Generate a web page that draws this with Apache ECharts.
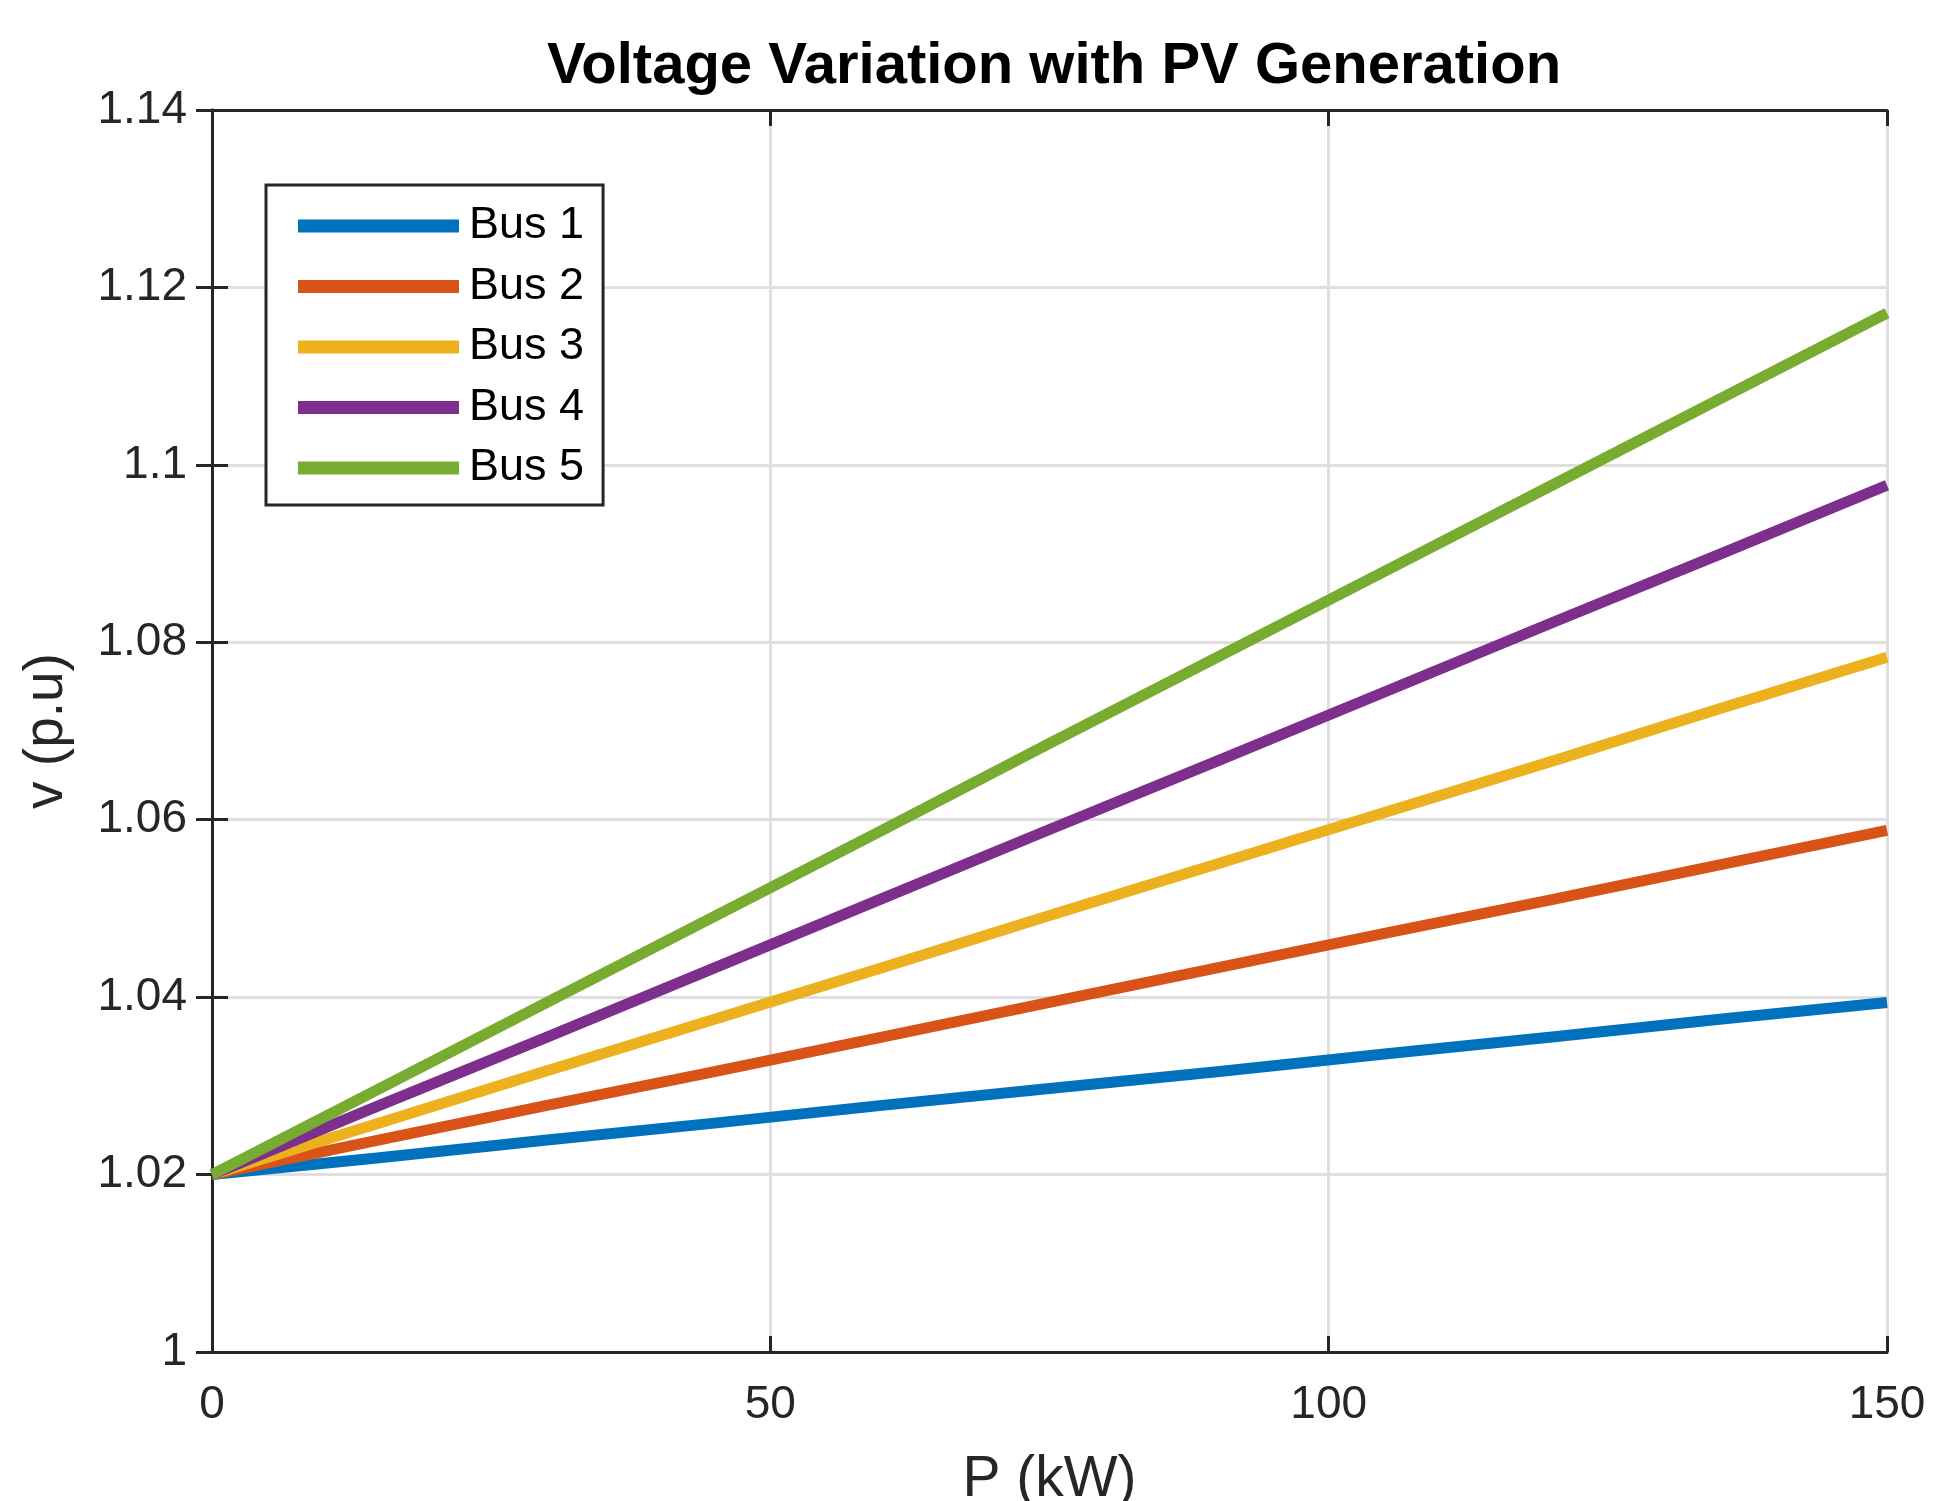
<!DOCTYPE html>
<html>
<head>
<meta charset="utf-8">
<script src="https://cdn.jsdelivr.net/npm/echarts@6/dist/echarts.min.js"></script>
<style>
html,body{margin:0;padding:0;background:#fff;}
#chart{width:1934px;height:1501px;}
</style>
</head>
<body>
<div id="chart"></div>
<script>
// Data
const pKW = [0, 15, 30, 45, 60, 75, 90, 105, 120, 135, 150];
const bus1 = [1.0200, 1.0219, 1.0239, 1.0258, 1.0278, 1.0297, 1.0316, 1.0336, 1.0355, 1.0375, 1.0394];
const bus2 = [1.0200, 1.0239, 1.0278, 1.0316, 1.0355, 1.0394, 1.0433, 1.0472, 1.0510, 1.0549, 1.0588];
const bus3 = [1.0200, 1.0258, 1.0317, 1.0375, 1.0433, 1.0492, 1.0550, 1.0608, 1.0666, 1.0725, 1.0783];
const bus4 = [1.0200, 1.0278, 1.0355, 1.0433, 1.0511, 1.0589, 1.0666, 1.0744, 1.0822, 1.0899, 1.0977];
const bus5 = [1.0200, 1.0297, 1.0394, 1.0491, 1.0588, 1.0686, 1.0783, 1.0880, 1.0977, 1.1074, 1.1171];
const seriesNames = ['Bus 1', 'Bus 2', 'Bus 3', 'Bus 4', 'Bus 5'];
const seriesValues = [bus1, bus2, bus3, bus4, bus5];
const xTicks = [0, 50, 100, 150];
const yTicks = [1, 1.02, 1.04, 1.06, 1.08, 1.1, 1.12, 1.14];

const colors = ['#0072BD', '#D95319', '#EDB120', '#7E2F8E', '#77AC30'];
const axisColor = '#262626';
const font = 'Arial, "Liberation Sans", Helvetica, sans-serif';

const chart = echarts.init(document.getElementById('chart'), null, {renderer: 'canvas'});

function fmtY(v) {
  const r = Math.round(v * 100) / 100;
  return String(r);
}

const baseAxisLine = {show: true, lineStyle: {color: axisColor, width: 3}};
const baseTick = {show: true, inside: true, length: 16, lineStyle: {color: axisColor, width: 3}};

const option = {
  backgroundColor: '#ffffff',
  animation: false,
  color: colors,
  title: {
    text: 'Voltage Variation with PV Generation',
    left: 1049,
    top: 33,
    textAlign: 'center',
    textStyle: {fontFamily: font, fontWeight: 'bold', fontSize: 58, color: '#000'}
  },
  grid: {left: 212, top: 110, width: 1675, height: 1242, containLabel: false, outerBoundsMode: 'none'},
  legend: {
    left: 266,
    top: 185,
    orient: 'vertical',
    data: seriesNames,
    icon: 'rect',
    itemWidth: 161,
    itemHeight: 13,
    itemGap: 10.5,
    padding: [16, 19, 12, 32],
    borderColor: axisColor,
    borderWidth: 3,
    backgroundColor: '#fff',
    textStyle: {fontFamily: font, fontSize: 45, color: '#000', lineHeight: 50, height: 50, padding: [0, 0, 0, 5]},
    selectedMode: false
  },
  xAxis: [
    {
      type: 'value', min: 0, max: 150, interval: 50, position: 'bottom',
      name: 'P (kW)', nameLocation: 'middle', nameGap: 100,
      nameTextStyle: {fontFamily: font, fontSize: 57, color: axisColor},
      axisLine: baseAxisLine, axisTick: baseTick,
      axisLabel: {fontFamily: font, fontSize: 46, color: axisColor, margin: 30,
        formatter: v => xTicks.includes(v) ? String(v) : ''},
      splitLine: {show: true, lineStyle: {color: '#dfdfdf', width: 3}}
    },
    {
      type: 'value', min: 0, max: 150, interval: 50, position: 'top',
      axisLine: baseAxisLine, axisTick: baseTick, axisLabel: {show: false}, splitLine: {show: false}
    }
  ],
  yAxis: [
    {
      type: 'value', min: 1, max: 1.14, interval: 0.02, position: 'left',
      name: 'v (p.u)', nameLocation: 'middle', nameGap: 138,
      nameTextStyle: {fontFamily: font, fontSize: 55, color: axisColor},
      axisLine: baseAxisLine, axisTick: baseTick,
      axisLabel: {fontFamily: font, fontSize: 46, color: axisColor, margin: 25, formatter: fmtY},
      splitLine: {show: true, lineStyle: {color: '#dfdfdf', width: 3}}
    },
    {
      type: 'value', min: 1, max: 1.14, interval: 0.02, position: 'right',
      axisLine: baseAxisLine, axisTick: baseTick, axisLabel: {show: false}, splitLine: {show: false}
    }
  ],
  series: seriesNames.map((name, i) => ({
    name: name,
    type: 'line',
    xAxisIndex: 0,
    yAxisIndex: 0,
    data: pKW.map((p, j) => [p, seriesValues[i][j]]),
    showSymbol: false,
    symbol: 'none',
    lineStyle: {width: 11, color: colors[i], cap: 'butt', join: 'miter'},
    itemStyle: {color: colors[i]},
    clip: true,
    z: 3
  }))
};
chart.setOption(option);
</script>
</body>
</html>
